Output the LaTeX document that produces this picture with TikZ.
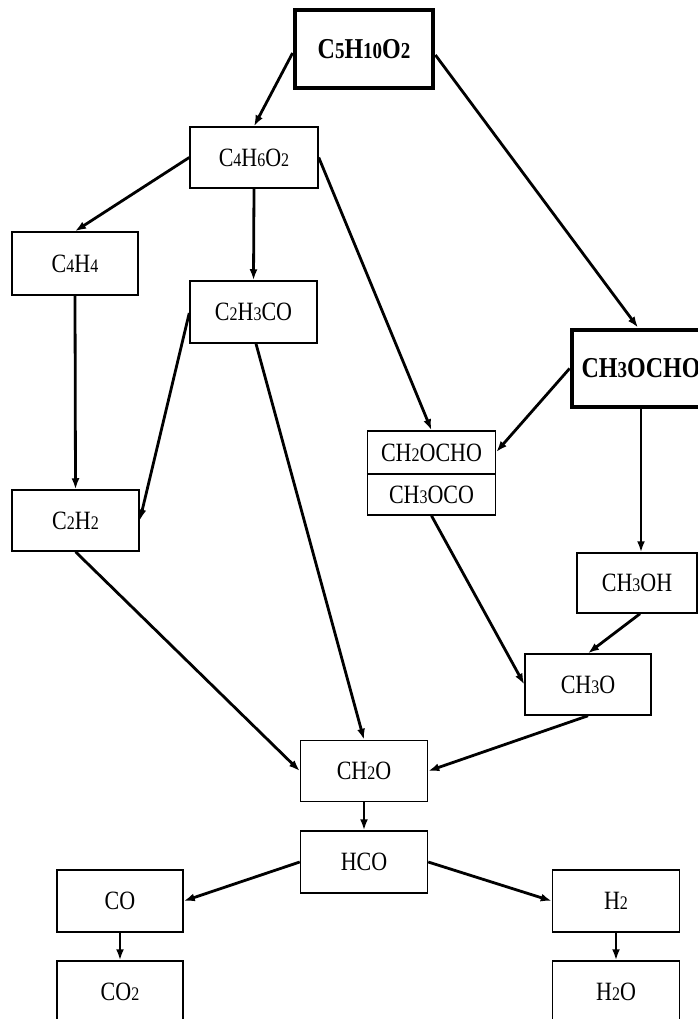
\documentclass[tikz,border=0pt]{standalone}
\usepackage{fontspec}
\usepackage{graphicx}
\setmainfont{Liberation Serif}
\usetikzlibrary{arrows.meta}
\newcommand\dg[1]{{\fontsize{16}{16}\selectfont #1}}
\newcommand\dgb[1]{{\fontsize{19}{19}\selectfont #1}}
\newcommand\tx[1]{\scalebox{1}[1.2]{#1}}
\tikzset{
  box/.style={draw, line width=1.5pt, minimum width=127pt, minimum height=62pt, inner sep=0pt, font=\fontsize{22}{26}\selectfont},
  boldbox/.style={draw, line width=4.8pt, minimum width=138pt, minimum height=78pt, inner sep=0pt, font=\fontsize{24}{28}\selectfont\bfseries},
  lbl/.style={inner sep=0pt, font=\fontsize{22}{26}\selectfont},
  arr/.style={-{Latex[length=11pt,width=8pt]}, line width=2.8pt}
}
\begin{document}
\begin{tikzpicture}[x=1pt,y=-1pt]
\useasboundingbox (0,0) rectangle (698,1019);
\node[boldbox] (top) at (364,49) {\tx{C\dgb5H\dgb{10}O\dgb2}};
\node[box, minimum width=128pt, minimum height=61pt] (c4h6o2) at (254,157.5) {\tx{C\dg4H\dg6O\dg2}};
\node[box, minimum width=126pt, minimum height=63pt] (c4h4) at (75,263.5) {\tx{C\dg4H\dg4}};
\node[box] (c2h3co) at (253.5,312) {\tx{C\dg2H\dg3CO}};
\node[boldbox, minimum height=77pt] (ch3ocho) at (641,368.5) {\tx{CH\dgb3OCHO}};
\node[box, minimum width=128pt, minimum height=84pt] (split) at (431.5,473) {};
\node[lbl] (s1) at (431.5,453) {\tx{CH\dg2OCHO}};
\node[lbl] (s2) at (431.5,495) {\tx{CH\dg3OCO}};
\draw[line width=1.5pt] ([yshift=-1pt]split.west) -- ([yshift=-1pt]split.east);
\node[box, minimum height=61pt] (c2h2) at (75.5,520.5) {\tx{C\dg2H\dg2}};
\node[box, minimum width=120pt, minimum height=60pt] (ch3oh) at (637,583) {\tx{CH\dg3OH}};
\node[box, minimum width=126pt, minimum height=61pt] (ch3o) at (588,684.5) {\tx{CH\dg3O}};
\node[box, minimum height=61pt] (ch2o) at (364,771) {\tx{CH\dg2O}};
\node[box] (hco) at (364,862) {\tx{HCO}};
\node[box, minimum width=126pt] (co) at (120,901) {\tx{CO}};
\node[box, minimum width=126pt] (co2) at (120,992) {\tx{CO\dg2}};
\node[box] (h2) at (616,901) {\tx{H\dg2}};
\node[box] (h2o) at (616,992) {\tx{H\dg2O}};
% connectors
\draw[arr] ([yshift=-4pt]top.west) -- (c4h6o2.north);
\draw[arr] ([yshift=-6pt]top.east) -- ([xshift=-3pt]ch3ocho.north);
\draw[arr] (c4h6o2.west) -- (c4h4.north);
\draw[arr] (c4h6o2.south) -- (c2h3co.north);
\draw[arr] (c4h6o2.east) -- (split.north);
\draw[arr] (c4h4.south) -- (c2h2.north);
\draw[arr] ([yshift=-1pt]c2h3co.west) -- (c2h2.east);
\draw[arr] ([xshift=2.5pt]c2h3co.south) -- (ch2o.north);
\draw[arr] (ch3ocho.west) -- ([yshift=21pt]split.east);
\draw[arr] (ch3ocho.south) -- ([xshift=4pt]ch3oh.north);
\draw[arr] (split.south) -- (ch3o.west);
\draw[arr] ([xshift=3pt]ch3oh.south) -- (ch3o.north);
\draw[arr] (c2h2.south) -- (ch2o.west);
\draw[arr] (ch3o.south) -- (ch2o.east);
\draw[arr] (ch2o.south) -- (hco.north);
\draw[arr] (hco.west) -- (co.east);
\draw[arr] (hco.east) -- (h2.west);
\draw[arr] (co.south) -- (co2.north);
\draw[arr] (h2.south) -- (h2o.north);
\end{tikzpicture}
\end{document}
